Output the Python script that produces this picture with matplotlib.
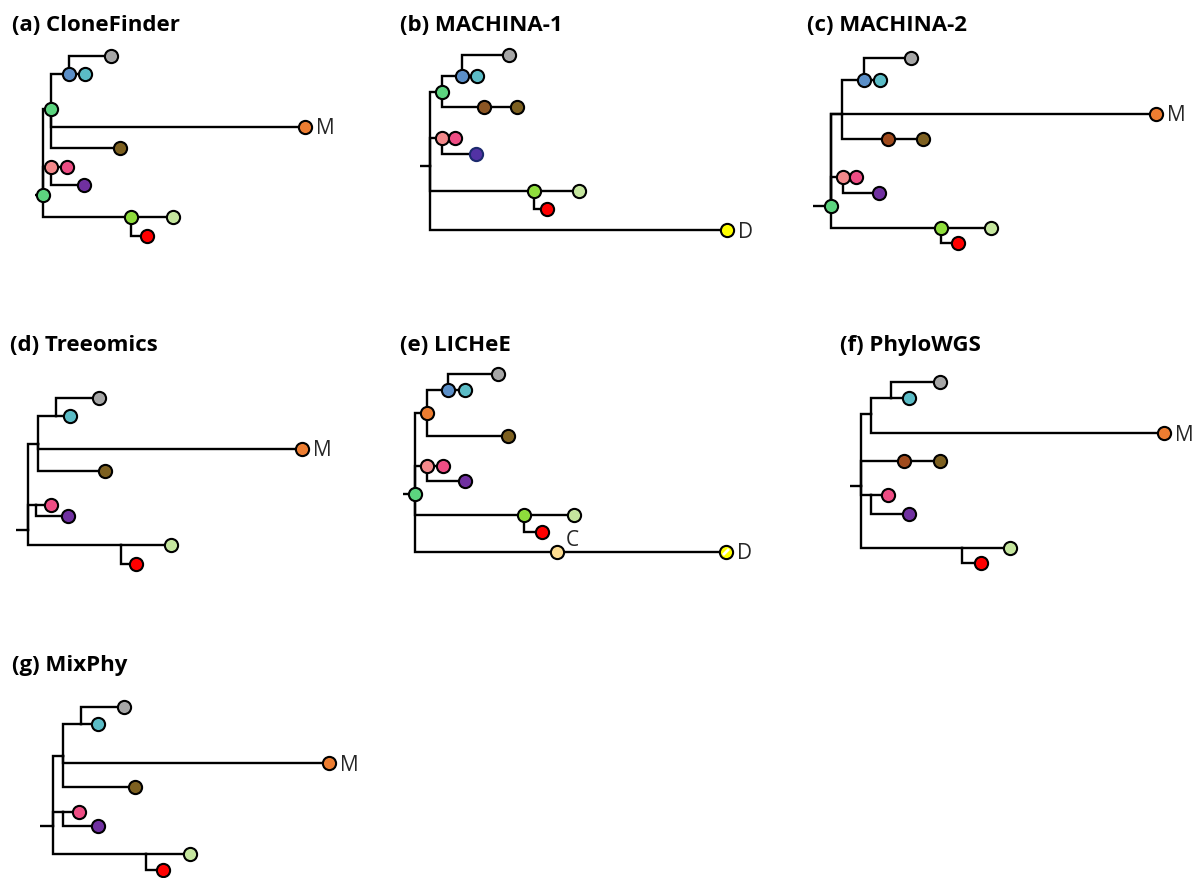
import matplotlib.pyplot as plt

plt.rcParams['font.family'] = ['Open Sans', 'DejaVu Sans']

# node fill colours used across all trees
PALETTE = {
    'grey': '#a6a6a6',
    'blue': '#5b8fc8',
    'cyan': '#5bbcc6',
    'mint': '#5cd47f',
    'orange': '#ed7d31',
    'olive': '#7d6020',
    'brown': '#8c5624',
    'rust': '#a04a1c',
    'salmon': '#f3898b',
    'pink': '#ee4d84',
    'purple': '#7030a0',
    'indigo': '#5232a4',
    'lime': '#8fdd3c',
    'pale': '#c5e69e',
    'red': '#ff0000',
    'yellow': '#ffff00',
    'sand': '#fddc90',
}

# each tree: parent index, depth (x) and row (y) relative to the root, colour key
clonefinder_parent = [-1, 0, 1, 2, 2, 1, 1, 0, 7, 7, 0, 10, 10]
clonefinder_x = [0, 8, 26, 68, 42, 262, 77, 8, 24, 41, 88, 130, 104]
clonefinder_y = [0, -86, -121, -139, -121, -68, -47, -28, -28, -10, 22, 22, 41]
clonefinder_colour = ['mint', 'mint', 'blue', 'grey', 'cyan', 'orange', 'olive',
                      'salmon', 'pink', 'purple', 'lime', 'pale', 'red']
clonefinder_tags = [(5, 'M')]

machina1_parent = [-1, 0, 1, 2, 2, 1, 5, 0, 7, 7, 0, 10, 10, 0]
machina1_x = [0, 12, 32, 79, 47, 54, 87, 12, 25, 46, 104, 149, 117, 297]
machina1_y = [0, -74, -90, -111, -90, -59, -59, -28, -28, -12, 25, 25, 43, 64]
machina1_colour = [None, 'mint', 'blue', 'grey', 'cyan', 'brown', 'olive',
                   'salmon', 'pink', 'indigo', 'lime', 'pale', 'red', 'yellow']
machina1_tags = [(13, 'D')]

machina2_parent = [-1, 0, 0, 2, 3, 3, 2, 6, 0, 8, 8, 0, 11, 11]
machina2_x = [0, 325, 11, 33, 80, 49, 57, 92, 12, 25, 48, 110, 160, 127]
machina2_y = [0, -92, -92, -126, -148, -126, -67, -67, -29, -29, -13, 22, 22, 37]
machina2_colour = ['mint', 'orange', None, 'blue', 'grey', 'cyan', 'rust', 'olive',
                   'salmon', 'pink', 'purple', 'lime', 'pale', 'red']
machina2_tags = [(1, 'M')]

treeomics_parent = [-1, 0, 1, 2, 2, 1, 1, 0, 7, 7, 0, 10, 10]
treeomics_x = [0, 10, 28, 71, 42, 274, 77, 8, 23, 40, 93, 143, 108]
treeomics_y = [0, -86, -114, -132, -114, -81, -59, -25, -25, -14, 15, 15, 34]
treeomics_colour = [None, None, None, 'grey', 'cyan', 'orange', 'olive',
                    None, 'pink', 'purple', None, 'pale', 'red']
treeomics_tags = [(5, 'M')]

lichee_parent = [-1, 0, 1, 2, 2, 1, 0, 6, 6, 0, 9, 9, 0, 12]
lichee_x = [0, 12, 33, 83, 50, 93, 12, 28, 50, 109, 159, 127, 142, 311]
lichee_y = [0, -81, -104, -120, -104, -58, -28, -28, -13, 21, 21, 38, 58, 58]
lichee_colour = ['mint', 'orange', 'blue', 'grey', 'cyan', 'olive', 'salmon',
                 'pink', 'purple', 'lime', 'pale', 'red', 'sand', 'yellow']
lichee_tags = [(12, 'C'), (13, 'D')]

phylowgs_parent = [-1, 0, 1, 2, 2, 1, 0, 6, 0, 8, 8, 0, 11, 11]
phylowgs_x = [0, 10, 30, 79, 48, 303, 43, 79, 10, 27, 48, 101, 149, 120]
phylowgs_y = [0, -72, -88, -104, -88, -53, -25, -25, 9, 9, 28, 62, 62, 77]
phylowgs_colour = [None, None, None, 'grey', 'cyan', 'orange', 'rust', 'olive',
                   None, 'pink', 'purple', None, 'pale', 'red']
phylowgs_tags = [(5, 'M')]

mixphy_parent = [-1, 0, 1, 2, 2, 1, 1, 0, 7, 7, 0, 10, 10]
mixphy_x = [0, 10, 28, 71, 45, 276, 82, 10, 26, 45, 93, 137, 110]
mixphy_y = [0, -70, -102, -119, -102, -63, -39, -14, -14, 0, 28, 28, 44]
mixphy_colour = [None, None, None, 'grey', 'cyan', 'orange', 'olive',
                 None, 'pink', 'purple', None, 'pale', 'red']
mixphy_tags = [(5, 'M')]

titles = ['(a) CloneFinder', '(b) MACHINA-1', '(c) MACHINA-2', '(d) Treeomics',
          '(e) LICHeE', '(f) PhyloWGS', '(g) MixPhy']


def draw_tree(ax, origin, stub, parent, xs, ys, colours, tags, hatched=()):
    ox, oy = origin
    lw = 1.7
    # root stub
    ax.plot([ox - stub, ox], [oy, oy], color='black', lw=lw, zorder=1,
            solid_capstyle='butt')
    # elbow branches: along the parent's column, then across to the child
    for i, p in enumerate(parent):
        if p < 0:
            continue
        px, py = ox + xs[p], oy + ys[p]
        cx, cy = ox + xs[i], oy + ys[i]
        ax.plot([px, px, cx], [py, cy, cy], color='black', lw=lw, zorder=1,
                solid_joinstyle='miter', solid_capstyle='projecting')
    for i, c in enumerate(colours):
        if c is None:
            continue
        cx, cy = ox + xs[i], oy + ys[i]
        edge = '#1c2a6e' if c == 'indigo' else 'black'
        ax.plot(cx, cy, 'o', ms=9.5, mfc=PALETTE[c], mec=edge, mew=1.5, zorder=2)
        if i in hatched:
            ax.plot([cx - 3, cx + 3], [cy + 3, cy - 3], color='white', lw=2,
                    zorder=3, solid_capstyle='butt')
    for i, text in tags:
        cx, cy = ox + xs[i], oy + ys[i]
        if text == 'C':
            ax.text(cx + 9, cy - 12, text, fontsize=15, color='#262626',
                    ha='left', va='center')
        else:
            ax.text(cx + 11, cy + 1, text, fontsize=15, color='#262626',
                    ha='left', va='center')


fig = plt.figure(figsize=(11.97, 8.79), dpi=100)
ax = fig.add_axes([0, 0, 1, 1])
ax.set_xlim(0, 1197)
ax.set_ylim(879, 0)
ax.axis('off')

draw_tree(ax, (42.7, 196), 8, clonefinder_parent, clonefinder_x, clonefinder_y,
          clonefinder_colour, clonefinder_tags)
draw_tree(ax, (430, 167.3), 10, machina1_parent, machina1_x, machina1_y,
          machina1_colour, machina1_tags)
draw_tree(ax, (831, 206.7), 18, machina2_parent, machina2_x, machina2_y,
          machina2_colour, machina2_tags)
draw_tree(ax, (28.3, 531), 12, treeomics_parent, treeomics_x, treeomics_y,
          treeomics_colour, treeomics_tags)
draw_tree(ax, (415, 495), 12, lichee_parent, lichee_x, lichee_y,
          lichee_colour, lichee_tags, hatched=(13,))
draw_tree(ax, (860.7, 487.3), 11, phylowgs_parent, phylowgs_x, phylowgs_y,
          phylowgs_colour, phylowgs_tags)
draw_tree(ax, (52.7, 827.3), 13, mixphy_parent, mixphy_x, mixphy_y,
          mixphy_colour, mixphy_tags)

title_pos = [(12, 31), (400, 31), (807, 31), (10, 351), (400, 351), (840, 351), (12, 671)]
for text, (tx, ty) in zip(titles, title_pos):
    ax.text(tx, ty, text, fontsize=16, fontweight='bold', color='black',
            ha='left', va='baseline')

fig.savefig('out.png', dpi=100)
